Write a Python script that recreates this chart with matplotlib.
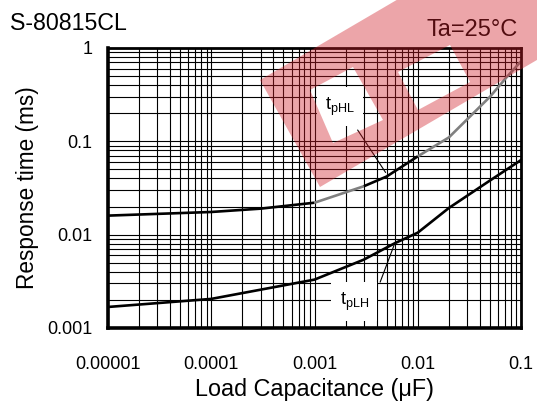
import matplotlib
matplotlib.use('Agg')
import matplotlib.pyplot as plt
from matplotlib.patches import PathPatch
from matplotlib.path import Path
from matplotlib.ticker import LogLocator, FixedLocator, FixedFormatter, NullFormatter

plt.rcParams['font.family'] = ['Liberation Sans', 'DejaVu Sans']
plt.rcParams['mathtext.fontset'] = 'custom'
plt.rcParams['mathtext.rm'] = 'Liberation Sans'

# DATA ------------------------------------------------------------------------
cap_hl = [1e-5, 1e-4, 3e-4, 1e-3, 3e-3, 5e-3, 1e-2, 2e-2, 5e-2, 7.3e-2, 0.1]
t_phl = [0.016, 0.0175, 0.019, 0.022, 0.033, 0.042, 0.069, 0.11, 0.30, 0.49, 0.72]

cap_lh = [1e-5, 1e-4, 1e-3, 3e-3, 6e-3, 1e-2, 2e-2, 5e-2, 0.1]
t_plh = [0.00168, 0.00205, 0.0033, 0.0054, 0.0081, 0.0105, 0.0193, 0.038, 0.063]

xticks = [1e-5, 1e-4, 1e-3, 1e-2, 1e-1]
xticklabels = ['0.00001', '0.0001', '0.001', '0.01', '0.1']
yticks = [1e-3, 1e-2, 1e-1, 1]
yticklabels = ['0.001', '0.01', '0.1', '1']
# -----------------------------------------------------------------------------

fig = plt.figure(figsize=(5.37, 4.05), dpi=100)
ax = fig.add_axes([108/537, 1-328/405, 413/537, 280/405])
ax.set_xscale('log')
ax.set_yscale('log')
ax.set_xlim(1e-5, 0.1)
ax.set_ylim(1e-3, 1)

ax.xaxis.set_major_locator(FixedLocator(xticks))
ax.xaxis.set_major_formatter(FixedFormatter(xticklabels))
ax.yaxis.set_major_locator(FixedLocator(yticks))
ax.yaxis.set_major_formatter(FixedFormatter(yticklabels))
ax.xaxis.set_minor_locator(LogLocator(base=10, subs=range(2, 10)))
ax.yaxis.set_minor_locator(LogLocator(base=10, subs=range(2, 10)))
ax.xaxis.set_minor_formatter(NullFormatter())
ax.yaxis.set_minor_formatter(NullFormatter())
ax.grid(True, which='both', color='black', linewidth=0.8)
ax.set_axisbelow(True)
ax.tick_params(which='both', length=0, labelsize=13)
ax.tick_params(axis='x', pad=20)
ax.tick_params(axis='y', pad=11)
for s in ax.spines.values():
    s.set_linewidth(2)
ax.spines['left'].set_linewidth(2.6)
ax.spines['bottom'].set_linewidth(2.6)

# tpHL curve, drawn black/grey in pieces as in the datasheet
segs = [(0, 4, 'black'), (3, 5, '#808080'), (4, 7, 'black'), (6, len(cap_hl), '#808080')]
for i0, i1, c in segs:
    ax.plot(cap_hl[i0:i1], t_phl[i0:i1], color=c, lw=1.9, solid_capstyle='butt')
ax.plot(cap_lh, t_plh, color='black', lw=1.9)

ax.annotate('', xy=(0.00505, 0.0438), xytext=(0.00253, 0.14),
            arrowprops=dict(arrowstyle='-', color='black', lw=0.8))
ax.annotate('', xy=(0.00602, 0.00819), xytext=(0.00423, 0.00291),
            arrowprops=dict(arrowstyle='-', color='black', lw=0.8))
ax.text(0.00177, 0.234, r'$\mathregular{t_{pHL}}$', fontsize=13, ha='center', va='center',
        bbox=dict(facecolor='white', edgecolor='none', pad=6))
ax.text(0.00242, 0.00191, r'$\mathregular{t_{pLH}}$', fontsize=13, ha='center', va='center',
        bbox=dict(facecolor='white', edgecolor='none', pad=6))

ax.set_xlabel('Load Capacitance (\u03bcF)', fontsize=16.8, labelpad=4)
ax.set_ylabel('Response time (ms)', fontsize=16.3, labelpad=6)

fig.text(10/537, 1-23/405, 'S-80815CL', fontsize=16.7, ha='left', va='center')
fig.text(518/537, 1-30/405, 'Ta=25\u00b0C', fontsize=17, ha='right', va='center')

# red watermark overlay (pixel coords of the 537x405 image)
def fig_pts(pts):
    return [(x/537, 1-y/405) for x, y in pts]

def area(p):
    return sum(p[i][0]*p[(i+1) % len(p)][1] - p[(i+1) % len(p)][0]*p[i][1] for i in range(len(p)))

outer = [(260, 80), (320, 187), (665, -15), (605, -122)]
holes = [[(310, 90), (333, 143), (383, 120), (353, 67)],
         [(398, 72), (418, 110), (470, 82), (450, 45)]]
verts, codes = [], []
po = fig_pts(outer)
for k, poly in enumerate([outer] + holes):
    p = fig_pts(poly)
    if k > 0 and area(p) * area(po) > 0:
        p = p[::-1]
    verts += p + [p[0]]
    codes += [Path.MOVETO] + [Path.LINETO]*(len(p)-1) + [Path.CLOSEPOLY]
wm = PathPatch(Path(verts, codes), transform=fig.transFigure, facecolor='#d0202a',
               edgecolor='none', alpha=0.4, zorder=10)
fig.patches.append(wm)

fig.savefig('out.png', dpi=100)
